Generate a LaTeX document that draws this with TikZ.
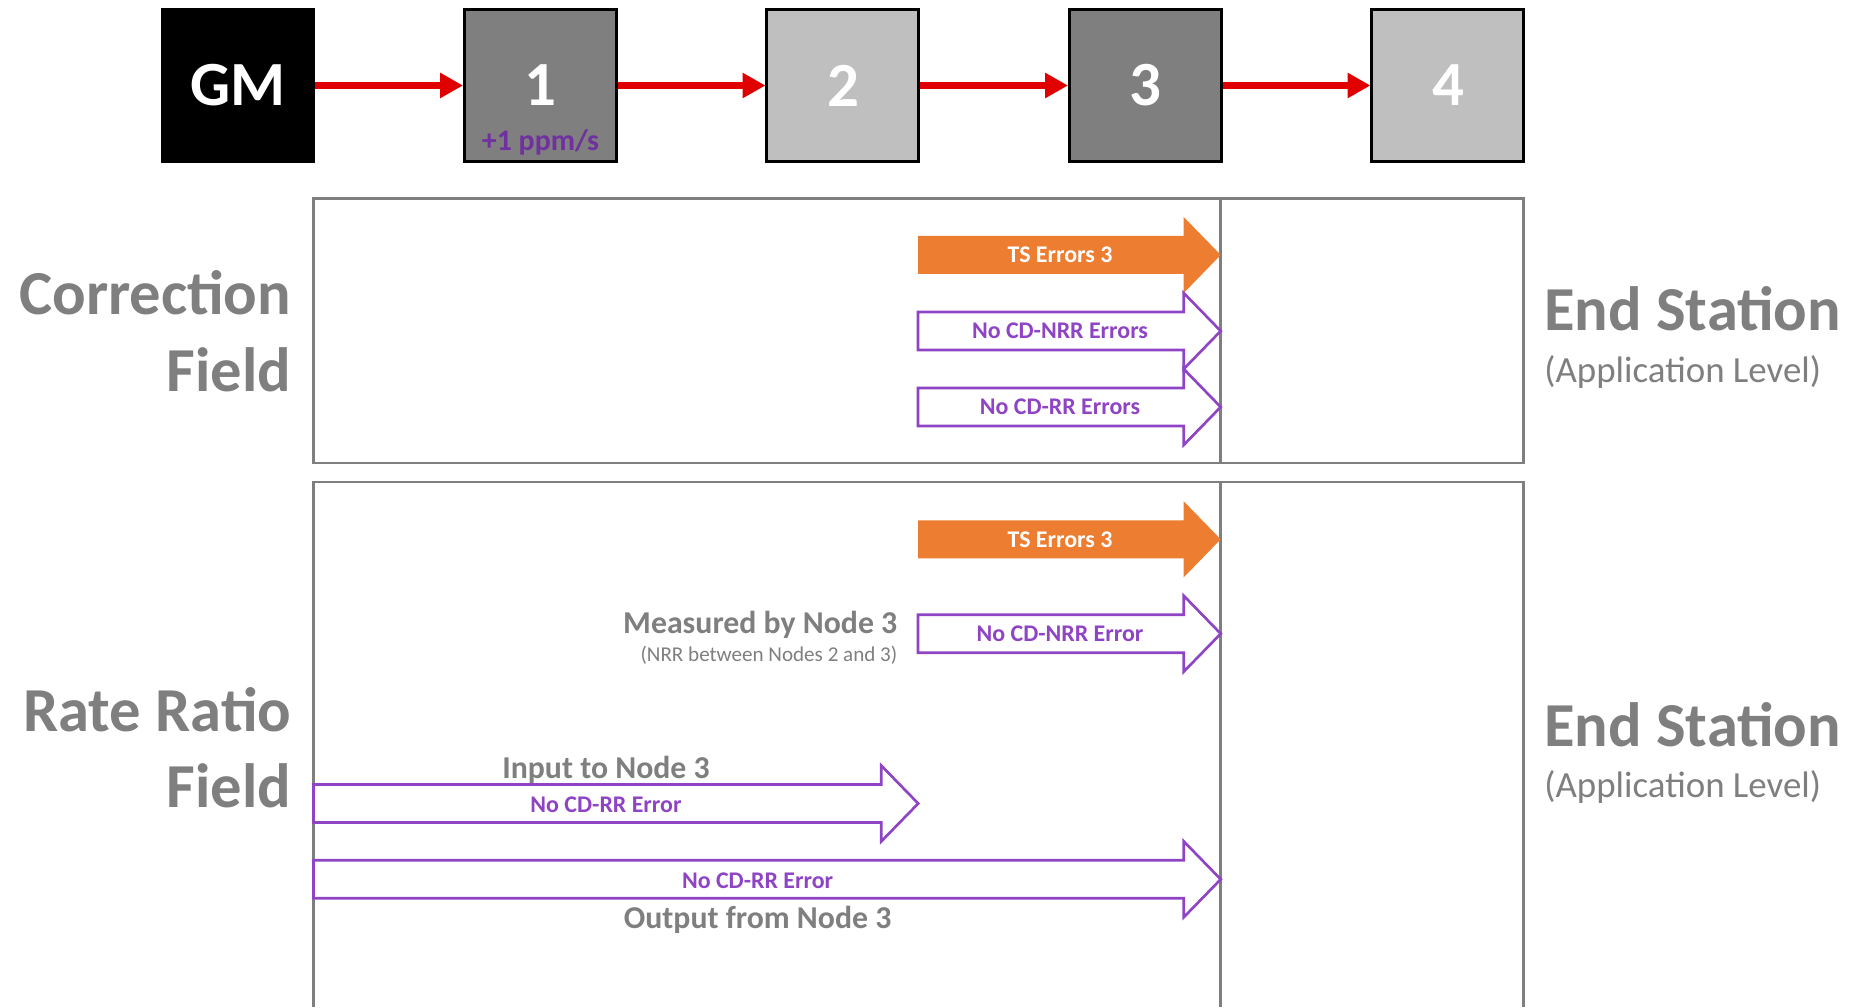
\documentclass[tikz,border=0pt]{standalone}
\usepackage{fontspec}
\setmainfont{Carlito}
\usepackage{xcolor}
\usepackage{tikz}
\usetikzlibrary{arrows.meta,positioning}
\definecolor{darkgrey}{RGB}{127,127,127}
\definecolor{lightgrey}{RGB}{191,191,191}
\definecolor{linkred}{RGB}{224,0,0}
\definecolor{tsorange}{RGB}{237,125,49}
\definecolor{cdpurple}{RGB}{142,68,196}
\definecolor{driftpurple}{RGB}{112,48,160}
\definecolor{labelgrey}{RGB}{127,127,127}

\newcommand{\blockarrow}[4]{%
  \draw[#1] (#2,{#4-0.19}) -- ({#3-0.37},{#4-0.19}) -- ({#3-0.37},{#4-0.38})
    -- (#3,#4) -- ({#3-0.37},{#4+0.38}) -- ({#3-0.37},{#4+0.19})
    -- (#2,{#4+0.19}) -- cycle;}

\begin{document}
\begin{tikzpicture}[
  clock/.style={draw=black, line width=0.85pt, minimum size=1.52cm, inner sep=0pt,
                text=white, font=\fontsize{17.9}{20}\selectfont\bfseries},
  link/.style={draw=linkred, line width=2.2pt, -{Triangle[length=6.5pt,width=6.8pt]}},
  panel/.style={draw=labelgrey, line width=0.8pt},
  tsarrow/.style={draw=none, fill=tsorange},
  cdarrow/.style={draw=cdpurple, line width=0.75pt, fill=white},
  tslabel/.style={text=white, inner sep=0pt, font=\fontsize{6.8}{8}\selectfont\bfseries},
  cdlabel/.style={text=cdpurple, inner sep=0pt, font=\fontsize{6.8}{8}\selectfont\bfseries},
  drift/.style={text=driftpurple, inner sep=0pt, font=\fontsize{8.5}{10}\selectfont\bfseries},
  field/.style={text=labelgrey, inner sep=0pt, anchor=base east,
                font=\fontsize{17.8}{21}\selectfont\bfseries},
  station/.style={text=labelgrey, inner sep=0pt, anchor=base west,
                  font=\fontsize{17.8}{21}\selectfont\bfseries},
  level/.style={text=labelgrey, inner sep=0pt, anchor=base west,
                font=\fontsize{10.5}{12}\selectfont},
  note/.style={text=labelgrey, inner sep=0pt, font=\fontsize{9.05}{11}\selectfont\bfseries},
  subnote/.style={text=labelgrey, inner sep=0pt, font=\fontsize{6}{7}\selectfont}
]
\useasboundingbox (0,0) rectangle (18.62,10.07);

\node[clock, fill=black] (gm) at (2.38,9.215) {GM};
\node[clock, fill=darkgrey, right=1.475cm of gm] (n1) {1};
\node[clock, fill=lightgrey, right=1.475cm of n1] (n2) {2};
\node[clock, fill=darkgrey, right=1.475cm of n2] (n3) {3};
\node[clock, fill=lightgrey, right=1.475cm of n3] (n4) {4};
\node[drift] (ppm) at ([yshift=-0.57cm]n1.center) {+1 ppm/s};
\foreach \a/\b in {gm/n1,n1/n2,n2/n3,n3/n4}
  \draw[link] (\a) -- (\b);

\draw[panel] (3.135,5.44) rectangle (15.236,8.087);
\draw[panel] (12.207,5.44) -- (12.207,8.087);
\draw[panel] (3.135,0) |- (15.236,5.25) -- (15.236,0);
\draw[panel] (12.207,5.25) -- (12.207,0);

\blockarrow{tsarrow}{9.18}{12.207}{7.52}
\blockarrow{cdarrow}{9.18}{12.207}{6.76}
\blockarrow{cdarrow}{9.18}{12.207}{6.00}
\blockarrow{tsarrow}{9.18}{12.207}{4.677}
\blockarrow{cdarrow}{9.18}{12.207}{3.733}
\blockarrow{cdarrow}{3.135}{9.182}{2.035}
\blockarrow{cdarrow}{3.135}{12.207}{1.277}

\node[tslabel] (ts1) at (10.6,7.52) {TS Errors 3};
\node[cdlabel] (nrr1) at (10.6,6.76) {No CD-NRR Errors};
\node[cdlabel] (rr1) at (10.6,6.00) {No CD-RR Errors};
\node[tslabel] (ts2) at (10.6,4.677) {TS Errors 3};
\node[cdlabel] (nrr2) at (10.6,3.733) {No CD-NRR Error};
\node[cdlabel] (rrin) at (6.06,2.02) {No CD-RR Error};
\node[cdlabel] (rrout) at (7.576,1.263) {No CD-RR Error};

\node[note, anchor=base east] (measured) at (8.98,3.74) {Measured by Node 3};
\node[subnote, anchor=base east] (between) at (8.98,3.46) {(NRR between Nodes 2 and 3)};
\node[note, anchor=base] (input) at (6.06,2.287) {Input to Node 3};
\node[note, anchor=base] (output) at (7.576,0.787) {Output from Node 3};

\node[field] (corr) at (2.92,6.925) {Correction};
\node[field] (corrf) at (2.92,6.153) {Field};
\node[field] (rate) at (2.92,2.76) {Rate Ratio};
\node[field] (ratef) at (2.92,1.997) {Field};

\node[station] (es1) at (15.437,6.76) {End Station};
\node[level] (app1) at (15.437,6.246) {(Application Level)};
\node[station] (es2) at (15.437,2.602) {End Station};
\node[level] (app2) at (15.437,2.091) {(Application Level)};
\end{tikzpicture}
\end{document}
